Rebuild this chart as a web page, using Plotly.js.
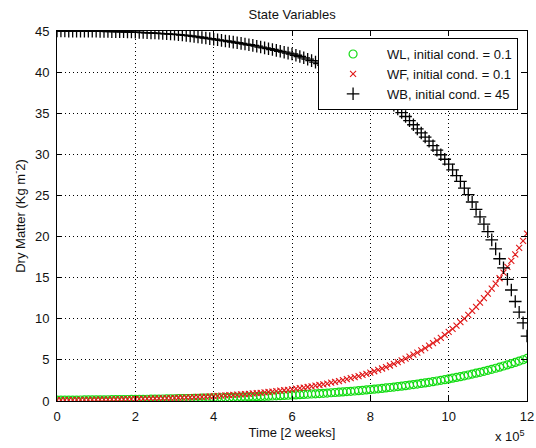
<!DOCTYPE html>
<html>
<head>
<meta charset="utf-8">
<script src="https://cdn.plot.ly/plotly-3.0.1.min.js"></script>
<style>
  html, body { margin: 0; padding: 0; background: #fff; }
  #chart { width: 536px; height: 448px; }
</style>
</head>
<body>
<div id="chart"></div>
<script>
// Simulation output sampled every 1e4 time units, from t = 0 to t = 12e5
const timeStart = 0;
const timeStep = 1e4;

// Leaf dry matter (WL)
const wl = [
  0.100,0.103,0.107,0.110,0.114,0.118,0.122,0.126,0.130,0.134,
  0.139,0.144,0.148,0.153,0.159,0.164,0.169,0.175,0.181,0.187,
  0.193,0.200,0.206,0.213,0.220,0.228,0.235,0.243,0.251,0.260,
  0.268,0.277,0.287,0.296,0.306,0.316,0.327,0.338,0.349,0.361,
  0.373,0.385,0.398,0.412,0.425,0.440,0.454,0.469,0.485,0.501,
  0.518,0.535,0.553,0.572,0.591,0.611,0.631,0.652,0.674,0.697,
  0.720,0.744,0.769,0.795,0.821,0.849,0.877,0.906,0.937,0.968,
  1.001,1.034,1.069,1.104,1.141,1.179,1.219,1.260,1.302,1.345,
  1.390,1.437,1.485,1.534,1.586,1.639,1.694,1.750,1.809,1.869,
  1.932,1.997,2.063,2.132,2.204,2.277,2.353,2.432,2.514,2.598,
  2.685,2.774,2.867,2.963,3.062,3.164,3.270,3.380,3.493,3.610,
  3.731,3.855,3.984,4.118,4.255,4.397,4.545,4.697,4.854,5.016,
  5.184
];

// Fruit dry matter (WF)
const wf = [
  0.100,0.105,0.109,0.114,0.119,0.125,0.130,0.136,0.143,0.149,
  0.156,0.163,0.170,0.178,0.186,0.194,0.203,0.212,0.222,0.232,
  0.243,0.253,0.265,0.277,0.290,0.303,0.316,0.331,0.346,0.361,
  0.378,0.395,0.413,0.431,0.451,0.471,0.493,0.515,0.538,0.563,
  0.588,0.615,0.643,0.672,0.702,0.734,0.767,0.802,0.839,0.877,
  0.916,0.958,1.001,1.046,1.094,1.143,1.195,1.249,1.306,1.365,
  1.427,1.492,1.559,1.630,1.704,1.781,1.862,1.946,2.034,2.126,
  2.222,2.323,2.428,2.538,2.653,2.773,2.899,3.030,3.167,3.311,
  3.461,3.618,3.782,3.953,4.132,4.319,4.515,4.720,4.934,5.157,
  5.390,5.634,5.890,6.157,6.435,6.727,7.032,7.350,7.684,8.032,
  8.394,8.774,9.172,9.588,10.022,10.476,10.951,11.447,11.966,12.508,
  13.07,13.66,14.28,14.93,15.60,16.31,17.05,17.82,18.63,19.48,
  20.36
];

// Branch dry matter (WB)
const wb = [
  45.00,45.00,45.00,44.99,44.99,44.99,44.98,44.98,44.98,44.97,
  44.97,44.96,44.95,44.94,44.93,44.92,44.91,44.90,44.88,44.87,
  44.85,44.83,44.81,44.79,44.77,44.75,44.72,44.69,44.66,44.63,
  44.60,44.56,44.51,44.46,44.41,44.35,44.28,44.21,44.14,44.07,
  44.00,43.93,43.86,43.79,43.72,43.65,43.57,43.49,43.41,43.33,
  43.25,43.15,43.05,42.95,42.85,42.75,42.64,42.53,42.42,42.31,
  42.20,42.05,41.90,41.74,41.57,41.40,41.22,41.04,40.86,40.68,
  40.50,40.28,40.06,39.84,39.62,39.40,39.12,38.84,38.56,38.28,
  38.00,37.68,37.36,37.04,36.72,36.40,35.97,35.53,35.08,34.60,
  34.10,33.60,33.10,32.60,32.10,31.60,31.05,30.50,29.95,29.40,
  28.80,28.10,27.40,26.70,25.90,25.10,24.20,23.30,22.40,21.50,
  20.60,19.60,18.50,17.30,16.20,14.80,13.50,12.10,10.80,9.50,
  7.90
];

const seriesNames = [
  'WL, initial cond. = 0.1',
  'WF, initial cond. = 0.1',
  'WB, initial cond. = 45'
];

const xTickVals = [0, 2e5, 4e5, 6e5, 8e5, 10e5, 12e5];
const xTickText = ['0', '2', '4', '6', '8', '10', '12'];
const yTickVals = [0, 5, 10, 15, 20, 25, 30, 35, 40, 45];

const font = 'Liberation Sans, Arial, sans-serif';
const txt = { family: font, size: 13, color: '#111' };

const traces = [
  {
    y: wl, x0: timeStart, dx: timeStep,
    name: seriesNames[0], type: 'scatter', mode: 'markers',
    marker: { symbol: 'circle-open', size: 8, color: '#14dc14', line: { width: 1.2, color: '#14dc14' } }
  },
  {
    y: wf, x0: timeStart, dx: timeStep,
    name: seriesNames[1], type: 'scatter', mode: 'markers',
    marker: { symbol: 'x-thin-open', size: 6, color: '#e01818', line: { width: 1.1, color: '#e01818' } }
  },
  {
    y: wb, x0: timeStart, dx: timeStep,
    name: seriesNames[2], type: 'scatter', mode: 'markers',
    marker: { symbol: 'cross-thin-open', size: 9, color: '#000', line: { width: 1.3, color: '#000' } }
  }
];

const axisCommon = {
  showline: true, linecolor: '#000', linewidth: 1, mirror: 'ticks',
  ticks: 'inside', ticklen: 5, tickcolor: '#000', tickwidth: 1,
  showgrid: true, gridcolor: '#000', gridwidth: 1, griddash: '1px,3px',
  zeroline: false, tickfont: txt,
  automargin: false
};

const layout = {
  width: 536, height: 448,
  margin: { l: 57, r: 9, t: 31, b: 47 },
  paper_bgcolor: '#fff', plot_bgcolor: '#fff',
  font: txt,
  title: { text: 'State Variables', x: 0.545, xanchor: 'center', y: 0.968, yanchor: 'middle', font: txt },
  xaxis: Object.assign({}, axisCommon, {
    range: [0, 12e5], tickmode: 'array', tickvals: xTickVals, ticktext: xTickText,
    ticklabelstandoff: 3,
    title: { text: 'Time [2 weeks]', standoff: 5, font: txt }
  }),
  yaxis: Object.assign({}, axisCommon, {
    range: [0, 45], tickmode: 'array', tickvals: yTickVals,
    ticklabelstandoff: 4,
    title: { text: 'Dry Matter (Kg m<sup>-</sup>2)', standoff: 6, font: txt }
  }),
  legend: {
    x: 0.981, xanchor: 'right', y: 0.981, yanchor: 'top',
    bgcolor: '#fff', bordercolor: '#000', borderwidth: 1,
    font: txt,
    itemwidth: 58, tracegroupgap: 0
  },
  showlegend: true,
  annotations: [
    { text: 'x 10<sup>5</sup>', xref: 'paper', yref: 'paper', x: 1.0, y: -0.094,
      xanchor: 'right', yanchor: 'middle', showarrow: false, font: txt }
  ]
};

Plotly.newPlot('chart', traces, layout, { displayModeBar: false, staticPlot: true });
</script>
</body>
</html>
